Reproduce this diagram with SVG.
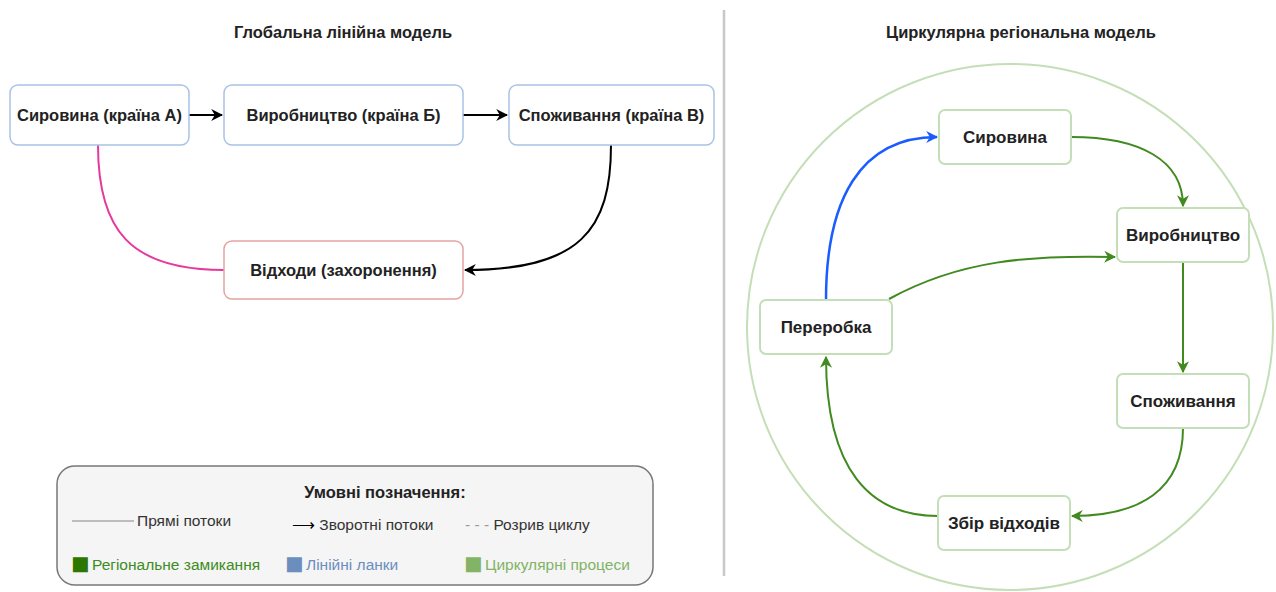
<svg xmlns="http://www.w3.org/2000/svg" width="1276" height="592" viewBox="0 0 1276 592">
<style>
.t{font-family:"Liberation Sans",Arial,sans-serif;font-weight:bold;font-size:16.5px;fill:#222;text-anchor:middle;dominant-baseline:central}
.r{font-size:17px}
.lb{fill:#fff;stroke:#a9c2e6;stroke-width:1.5}
.rb{fill:#fff;stroke:#c4dfb7;stroke-width:2}
.g{fill:none;stroke:#418a1f;stroke-width:2}
.k{fill:none;stroke:#000;stroke-width:2}
.lg{font-family:"Liberation Sans",Arial,sans-serif;font-size:15.5px;fill:#333}
.sq{font-family:"DejaVu Sans",sans-serif;font-size:19.5px}
</style>
<defs>
<marker id="ag" viewBox="0 0 10 10" refX="9" refY="5" markerWidth="12" markerHeight="12" orient="auto" markerUnits="userSpaceOnUse">
<path d="M0,0 L10,5 L0,10 L3,5 Z" fill="#418a1f"/>
</marker>
<marker id="ab" viewBox="0 0 10 10" refX="9" refY="5" markerWidth="12" markerHeight="12" orient="auto" markerUnits="userSpaceOnUse">
<path d="M0,0 L10,5 L0,10 L3,5 Z" fill="#1a5cff"/>
</marker>
<marker id="ak2" viewBox="0 0 10 10" refX="9" refY="5" markerWidth="12" markerHeight="12" orient="auto" markerUnits="userSpaceOnUse">
<path d="M0,0 L10,5 L0,10 L3,5 Z" fill="#000"/>
</marker>
</defs>
<rect width="1276" height="592" fill="#fff"/>
<line x1="724" y1="10" x2="724" y2="576" stroke="#c8c8c8" stroke-width="2.5"/>
<text class="t" x="343" y="32">Глобальна лінійна модель</text>
<text class="t" x="1021" y="32">Циркулярна регіональна модель</text>
<circle cx="1010" cy="327" r="263" fill="none" stroke="#c4dfb7" stroke-width="2"/>
<g id="connectors">
<path class="k" d="M189,115 L222,115" marker-end="url(#ak2)"/>
<path class="k" d="M463,115 L507,115" marker-end="url(#ak2)"/>
<path d="M98,145 C98,230 130,270 224,270" fill="none" stroke="#e6399b" stroke-width="2"/>
<path class="k" d="M611,145 C611,230 580,270 465,270" marker-end="url(#ak2)"/>
<path class="g" d="M1071,137 C1140,137 1183,160 1183,206" marker-end="url(#ag)"/>
<path class="g" d="M1183,262 L1183,372" marker-end="url(#ag)"/>
<path class="g" d="M1183,428 C1183,490 1140,516 1072,516" marker-end="url(#ag)"/>
<path class="g" d="M938,516 C870,516 826,470 826,357" marker-end="url(#ag)"/>
<path d="M826,300 C826,200 860,137 937,137" fill="none" stroke="#1a5cff" stroke-width="2.5" marker-end="url(#ab)"/>
<path class="g" d="M889,299 C960,260 1030,255 1115,257" marker-end="url(#ag)"/>
</g>
<g id="n-syr-a"><rect class="lb" x="10" y="85" width="179" height="60" rx="8"/><text class="t" x="99.5" y="115">Сировина (країна А)</text></g>
<g id="n-vyr-b"><rect class="lb" x="224" y="85" width="239" height="60" rx="8"/><text class="t" x="343.5" y="115">Виробництво (країна Б)</text></g>
<g id="n-spo-v"><rect class="lb" x="509" y="85" width="205" height="60" rx="8"/><text class="t" x="611.5" y="115">Споживання (країна В)</text></g>
<g id="n-vidh"><rect x="224" y="241" width="239" height="58" rx="8" fill="#fff" stroke="#e3a3a3" stroke-width="1.5"/><text class="t" x="343.5" y="270">Відходи (захоронення)</text></g>
<g id="r-syr"><rect class="rb" x="939" y="110" width="132" height="54" rx="6"/><text class="t r" x="1005" y="137">Сировина</text></g>
<g id="r-vyr"><rect class="rb" x="1117" y="208" width="132" height="54" rx="6"/><text class="t r" x="1183" y="235">Виробництво</text></g>
<g id="r-spo"><rect class="rb" x="1117" y="374" width="132" height="54" rx="6"/><text class="t r" x="1183" y="401">Споживання</text></g>
<g id="r-zbir"><rect class="rb" x="938" y="496" width="132" height="54" rx="6"/><text class="t r" x="1004" y="523">Збір відходів</text></g>
<g id="r-per"><rect class="rb" x="760" y="300" width="132" height="54" rx="6"/><text class="t r" x="826" y="327">Переробка</text></g>
<g id="legend">
<rect x="57" y="466" width="596" height="119" rx="18" fill="#f5f5f5" stroke="#777" stroke-width="1.5"/>
<text class="t" x="385" y="492">Умовні позначення:</text>
<line x1="72" y1="521" x2="134" y2="521" stroke="#aaa" stroke-width="1.5"/>
<text class="lg" x="137" y="526">Прямі потоки</text>
<text class="lg" x="292" y="530"><tspan fill="#000">⟶</tspan> Зворотні потоки</text>
<text class="lg" x="465" y="530"><tspan fill="#999">- - -</tspan> Розрив циклу</text>
<text class="lg" x="71" y="570" style="fill:#3d8c1e"><tspan class="sq" fill="#2d7600">■</tspan><tspan x="92">Регіональне замикання</tspan></text>
<text class="lg" x="285" y="570" style="fill:#6c8ebf"><tspan class="sq">■</tspan><tspan x="306">Лінійні ланки</tspan></text>
<text class="lg" x="464" y="570" style="fill:#82b366"><tspan class="sq">■</tspan><tspan x="485">Циркулярні процеси</tspan></text>
</g>
</svg>
